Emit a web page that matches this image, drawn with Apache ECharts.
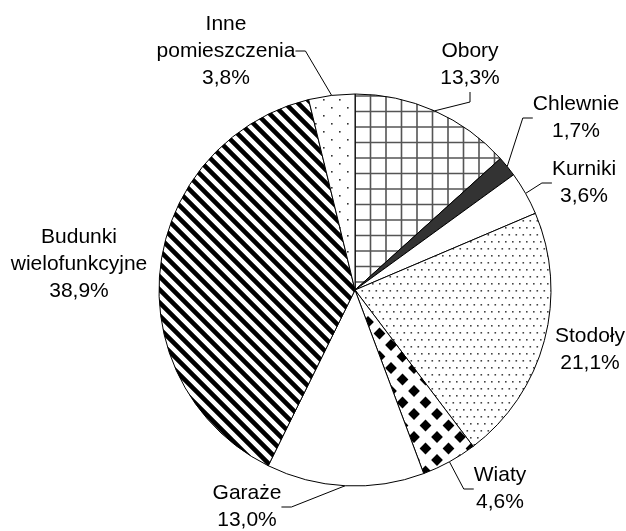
<!DOCTYPE html>
<html lang="pl">
<head>
    <meta charset="UTF-8">
    <title>Budynki gospodarskie</title>
    <style>
        html, body { margin: 0; padding: 0; background: #fff; }
    </style>
</head>
<body>

<div id="main" style="width: 626px;height:531px;"></div>

<script src="https://cdn.jsdelivr.net/npm/echarts@6/dist/echarts.min.js"></script>
<script type="text/javascript">
    // dane
    var categories = ['Obory', 'Chlewnie', 'Kurniki', 'Stodoły', 'Wiaty', 'Garaże', 'Budunki\nwielofunkcyjne', 'Inne\npomieszczenia'];
    var shares = [13.3, 1.7, 3.6, 21.1, 4.6, 13.0, 38.9, 3.8];

    // wzory wypełnienia (canvas)
    function tile(w, h, draw) {
        var c = document.createElement('canvas');
        c.width = w;
        c.height = h;
        var ctx = c.getContext('2d');
        ctx.fillStyle = '#fff';
        ctx.fillRect(0, 0, w, h);
        draw(ctx);
        return {image: c, repeat: 'repeat'};
    }

    // kratka - obory
    var gridFill = tile(31, 31, function (ctx) {
        ctx.strokeStyle = '#555';
        ctx.lineWidth = 1.6;
        ctx.beginPath();
        [14, 29.5].forEach(function (x) { ctx.moveTo(x, 0); ctx.lineTo(x, 31); });
        [3, 18.5].forEach(function (y) { ctx.moveTo(0, y); ctx.lineTo(31, y); });
        ctx.stroke();
    });

    // gęste kropki - stodoły
    var denseDots = tile(7, 14, function (ctx) {
        ctx.fillStyle = '#444';
        ctx.fillRect(1, 3, 1.6, 1.6);
        ctx.fillRect(4.5, 10, 1.6, 1.6);
    });

    // rzadkie kropki - inne
    var sparseDots = tile(16, 16, function (ctx) {
        ctx.fillStyle = '#333';
        ctx.fillRect(3, 3, 1.6, 1.6);
        ctx.fillRect(11, 11, 1.6, 1.6);
    });

    // szachownica - wiaty
    var checker = tile(23, 23, function (ctx) {
        var s = 23, d = 5.9;
        ctx.fillStyle = '#000';
        [[0, 0], [s, 0], [0, s], [s, s], [s / 2, s / 2]].forEach(function (p) {
            ctx.beginPath();
            ctx.moveTo(p[0], p[1] - d);
            ctx.lineTo(p[0] + d, p[1]);
            ctx.lineTo(p[0], p[1] + d);
            ctx.lineTo(p[0] - d, p[1]);
            ctx.closePath();
            ctx.fill();
        });
    });

    // ukośne paski - budynki wielofunkcyjne
    var stripes = tile(13, 13, function (ctx) {
        var s = 13;
        ctx.strokeStyle = '#000';
        ctx.lineWidth = 4.6;
        ctx.beginPath();
        for (var k = -1; k <= 1; k++) {
            ctx.moveTo(k * s - 2, -2);
            ctx.lineTo(k * s + s + 2, s + 2);
        }
        ctx.stroke();
    });

    var fills = [gridFill, '#333', '#fff', denseDots, checker, '#fff', stripes, sparseDots];
    var noLine = [false, false, false, true, false, false, true, false];

    // środki etykiet
    var labelPos = [[470, 65], [576, 118], [584, 183], [590, 350], [500, 489], [247, 507], [79, 264], [226, 51]];

    var data = categories.map(function (name, i) {
        return {
            name: name,
            value: shares[i],
            itemStyle: {color: fills[i]},
            labelLine: {show: !noLine[i]}
        };
    });

    var myChart = echarts.init(document.getElementById('main'), null, {renderer: 'canvas'});

    var option = {
        backgroundColor: '#fff',
        animation: false,
        series: [
            {
                type: 'pie',
                center: [355, 290],
                radius: 196,
                startAngle: 90,
                clockwise: true,
                avoidLabelOverlap: false,
                silent: true,
                itemStyle: {
                    borderColor: '#000',
                    borderWidth: 1
                },
                label: {
                    position: 'outside',
                    color: '#000',
                    fontFamily: 'Liberation Sans, Arial, sans-serif',
                    fontSize: 21,
                    lineHeight: 27,
                    align: 'center',
                    formatter: function (p) {
                        return p.name + '\n' + p.value.toFixed(1).replace('.', ',') + '%';
                    }
                },
                labelLine: {
                    show: true,
                    length: 10,
                    length2: 10,
                    lineStyle: {color: '#000', width: 1}
                },
                labelLayout: function (params) {
                    var p = labelPos[params.dataIndex];
                    return {x: p[0], y: p[1], align: 'center', verticalAlign: 'middle'};
                },
                emphasis: {disabled: true},
                data: data
            }
        ]
    };

    myChart.setOption(option);
</script>
</body>
</html>
